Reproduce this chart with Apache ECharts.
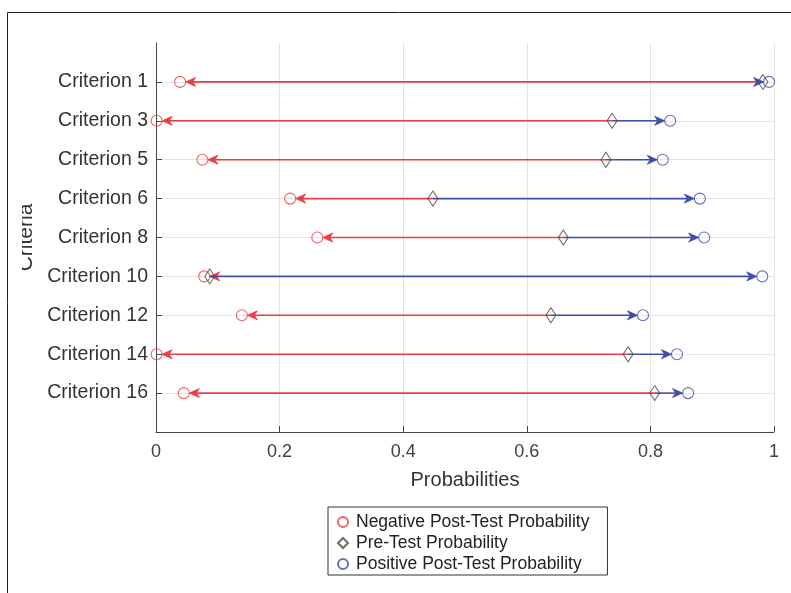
<!DOCTYPE html>
<html>
<head>
<meta charset="utf-8">
<script src="https://cdn.jsdelivr.net/npm/echarts@6/dist/echarts.min.js"></script>
<style>
  html, body { margin: 0; padding: 0; background: #fff; }
  #chart { width: 791px; height: 593px; }
</style>
</head>
<body>
<div id="chart"></div>
<script>
// values
const criteria = ['Criterion 1', 'Criterion 3', 'Criterion 5', 'Criterion 6', 'Criterion 8',
  'Criterion 10', 'Criterion 12', 'Criterion 14', 'Criterion 16'];
const negPost = [0.039, 0.001, 0.075, 0.217, 0.261, 0.078, 0.139, 0.001, 0.045];
const preTest = [0.982, 0.738, 0.728, 0.448, 0.659, 0.087, 0.639, 0.764, 0.807];
const posPost = [0.992, 0.832, 0.820, 0.880, 0.887, 0.981, 0.788, 0.843, 0.861];
const xTicks = [0, 0.2, 0.4, 0.6, 0.8, 1];

const RED = '#ee3d42';
const BLUE = '#3f4ea9';
const FONT = 'Liberation Sans';

// empty slots at both ends so the criteria sit on 1..9 of a 0..10 range
const yCats = [''].concat(criteria, ['']);
const inner = (idx) => idx > 0 && idx < yCats.length - 1;

const negArrows = criteria.map((c, i) => [preTest[i], negPost[i], c]);
const posArrows = criteria.map((c, i) => [preTest[i], posPost[i], c]);

function arrowItem(color) {
  return function (params, api) {
    const y = api.value(2);
    const p0 = api.coord([api.value(0), y]);
    const p1 = api.coord([api.value(1), y]);
    const dir = p0[0] >= p1[0] ? 1 : -1;
    const r = 5.5, L = 10, w = 4.5;
    const tip = p1[0] + dir * r;
    const py = p0[1];
    return {
      type: 'group',
      children: [
        {
          type: 'line',
          shape: { x1: p0[0], y1: py, x2: tip + dir * 3, y2: py },
          style: { stroke: color, lineWidth: 1.6 }
        },
        {
          type: 'polygon',
          shape: {
            points: [
              [tip, py],
              [tip + dir * L, py - w],
              [tip + dir * L * 0.7, py],
              [tip + dir * L, py + w]
            ]
          },
          style: { fill: color, stroke: color, lineWidth: 0.8 }
        }
      ]
    };
  };
}

const chart = echarts.init(document.getElementById('chart'));
chart.setOption({
  animation: false,
  textStyle: { fontFamily: FONT },
  grid: { left: 156, right: 17, top: 43, bottom: 161 },
  xAxis: {
    type: 'value',
    min: 0,
    max: 1,
    interval: 0.2,
    name: 'Probabilities',
    nameLocation: 'middle',
    nameGap: 38,
    nameTextStyle: { fontSize: 20, color: '#333' },
    axisLine: { show: true, lineStyle: { color: '#444', width: 1 } },
    axisTick: { show: true, inside: true, length: 6, lineStyle: { color: '#444' } },
    axisLabel: {
      fontSize: 18, color: '#404040', margin: 11,
      formatter: (v) => xTicks.includes(+v.toFixed(1)) ? String(+v.toFixed(1)) : ''
    },
    splitLine: { show: true, lineStyle: { color: '#e4e4e4', width: 1 } }
  },
  yAxis: {
    type: 'category',
    data: yCats,
    inverse: true,
    boundaryGap: false,
    name: 'Criteria',
    nameLocation: 'middle',
    nameGap: 118,
    nameRotate: 90,
    nameTextStyle: { fontSize: 21, color: '#333' },
    axisLine: { show: true, lineStyle: { color: '#444', width: 1 } },
    axisTick: { show: true, inside: true, length: 6, interval: inner, lineStyle: { color: '#444' } },
    axisLabel: { fontSize: 19.5, color: '#333', margin: 8, interval: 0 },
    splitLine: { show: true, interval: inner, lineStyle: { color: '#e4e4e4', width: 1 } }
  },
  legend: {
    orient: 'vertical',
    left: 328,
    top: 507,
    itemGap: 3,
    itemWidth: 10,
    itemHeight: 10,
    padding: [6, 18, 2, 9],
    borderColor: '#333',
    borderWidth: 1,
    borderRadius: 0,
    textStyle: { fontSize: 17.5, lineHeight: 18, color: '#222', fontFamily: FONT, padding: [0, 0, 0, 3] },
    data: ['Negative Post-Test Probability', 'Pre-Test Probability', 'Positive Post-Test Probability']
  },
  series: [
    {
      type: 'custom',
      renderItem: arrowItem(RED),
      encode: { x: [0, 1], y: 2 },
      data: negArrows,
      z: 2
    },
    {
      type: 'custom',
      renderItem: arrowItem(BLUE),
      encode: { x: [0, 1], y: 2 },
      data: posArrows,
      z: 2
    },
    {
      name: 'Negative Post-Test Probability',
      type: 'scatter',
      symbol: 'circle',
      symbolSize: 11,
      itemStyle: { color: 'rgba(255,255,255,0)', borderColor: RED, borderWidth: 1.1 },
      data: criteria.map((c, i) => [negPost[i], c]),
      z: 3
    },
    {
      name: 'Pre-Test Probability',
      type: 'scatter',
      symbol: 'diamond',
      symbolSize: [10, 15],
      itemStyle: { color: 'rgba(255,255,255,0)', borderColor: '#4a4a4a', borderWidth: 1.1 },
      data: criteria.map((c, i) => [preTest[i], c]),
      z: 3
    },
    {
      name: 'Positive Post-Test Probability',
      type: 'scatter',
      symbol: 'circle',
      symbolSize: 11,
      itemStyle: { color: 'rgba(255,255,255,0)', borderColor: BLUE, borderWidth: 1.1 },
      data: criteria.map((c, i) => [posPost[i], c]),
      z: 3
    }
  ],
  graphic: [
    {
      type: 'rect',
      z: 100,
      shape: { x: 8, y: 190, width: 14, height: 100 },
      style: { fill: '#fff' }
    },
    {
      type: 'rect',
      z: 101,
      shape: { x: 7.5, y: 12.5, width: 820, height: 620 },
      style: { fill: 'none', stroke: '#222', lineWidth: 1 }
    }
  ]
});
</script>
</body>
</html>
